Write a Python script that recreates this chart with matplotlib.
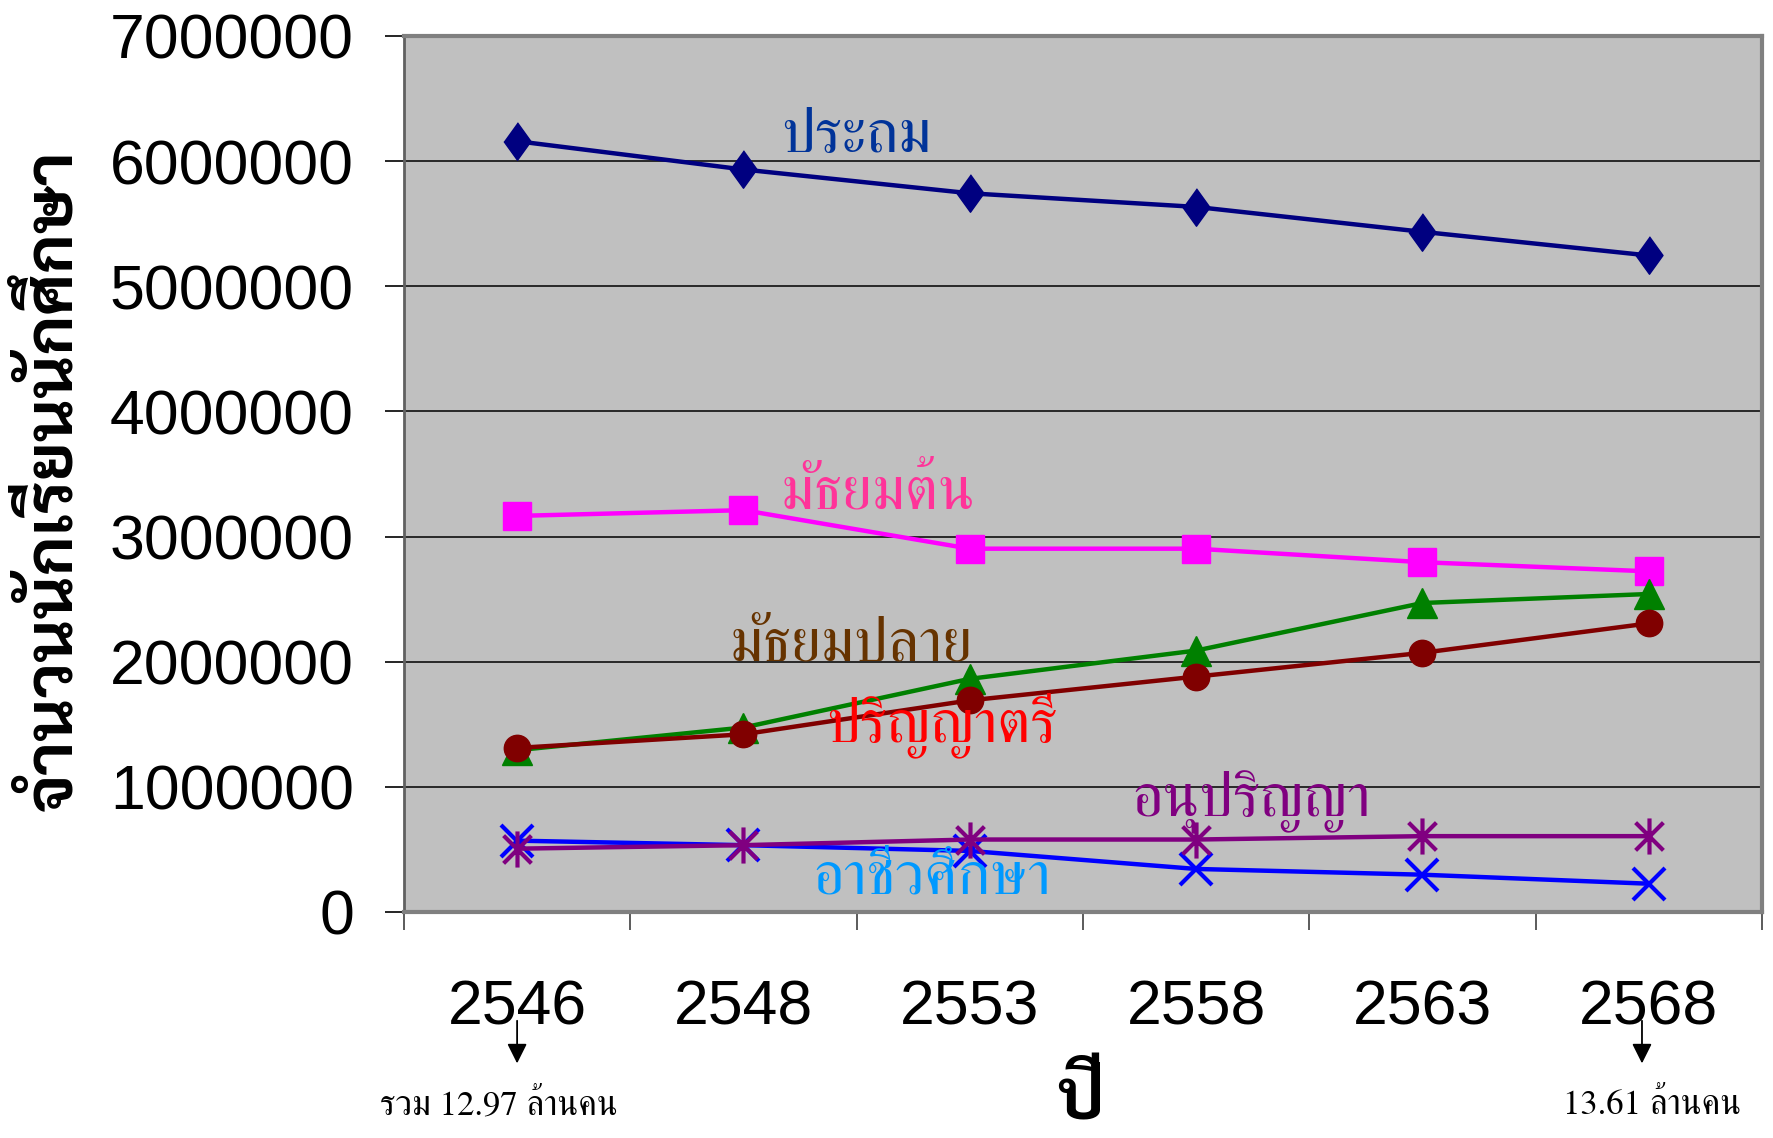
import matplotlib
matplotlib.use("Agg")
import matplotlib.pyplot as plt
from matplotlib.path import Path

############### Data ################
years = ["2546", "2548", "2553", "2558", "2563", "2568"]
prathom = [6159000, 5933000, 5743000, 5634000, 5435000, 5246000]
mathayom_ton = [3165000, 3211000, 2903000, 2903000, 2795000, 2722000]
mathayom_plai = [1293000, 1474000, 1863000, 2089000, 2469000, 2541000]
parinya_tri = [1311000, 1420000, 1691000, 1881000, 2071000, 2306000]
anuparinya = [506000, 534000, 579000, 579000, 606000, 606000]
archiwa = [570000, 534000, 488000, 344000, 298000, 226000]

# Thai fonts (Angsana / Cordia look-alikes)
thai_serif = ["FreeSerif", "Liberation Serif", "DejaVu Sans"]
thai_bold = ["Sarabun", "Noto Sans Thai Looped", "DejaVu Sans"]

plt.rcParams['font.family'] = ['Liberation Sans', 'DejaVu Sans']

############### Plot ################
fig = plt.figure(figsize=(17.74, 11.38), dpi=100)
ax = fig.add_axes([0.2277, 0.1986, 0.7655, 0.7698])
ax.set_facecolor("#C0C0C0")

x = [i + 0.5 for i in range(len(years))]

diamond = [(0, 1), (0.72, 0), (0, -1), (-0.72, 0)]
star = Path([(-1, -1), (1, 1), (-1, 1), (1, -1), (0, -1.3), (0, 1.3)],
            [Path.MOVETO, Path.LINETO] * 3)

lw = 3.2
ax.plot(x, prathom, color="#000080", lw=lw, marker=diamond, ms=27, zorder=3)
ax.plot(x, mathayom_ton, color="#FF00FF", lw=lw, marker="s", ms=19.5, zorder=3)
ax.plot(x, mathayom_plai, color="#008000", lw=lw, marker="^", ms=22, zorder=3)
ax.plot(x, parinya_tri, color="#800000", lw=lw, marker="o", ms=19, zorder=3)
ax.plot(x, archiwa, color="#0000FF", lw=lw, marker="x", ms=23, mew=3, zorder=3)
ax.plot(x, anuparinya, color="#800080", lw=lw, marker=star, ms=26, mew=3,
        mfc="none", zorder=3)

ax.set_xlim(0, 6)
ax.set_ylim(0, 7000000)
ax.set_yticks(range(0, 7000001, 1000000))
ax.set_yticklabels([str(v) for v in range(0, 7000001, 1000000)], fontsize=45)
ax.yaxis.grid(True, color="black", lw=1.1)
ax.set_axisbelow(True)
ax.tick_params(axis="y", length=14, width=1.2, pad=22, color="black")

ax.set_xticks(range(0, 7))
ax.set_xticklabels([""] * 7)
ax.tick_params(axis="x", which="major", length=13, width=1.2, color="#404040")
ax.set_xticks(x, minor=True)
ax.set_xticklabels(years, minor=True, fontsize=45)
ax.tick_params(axis="x", which="minor", length=0, pad=48)

for s in ["top", "right", "bottom"]:
    ax.spines[s].set_color("#808080")
    ax.spines[s].set_linewidth(3)
ax.spines["left"].set_color("#606060")
ax.spines["left"].set_linewidth(2)

############### Series labels ################
lab = dict(fontsize=44, family=thai_serif, zorder=4, va="center", ha="left")
ax.text(1.665, 6186000, "ประถม", color="#003399", **lab)
ax.text(1.665, 3337000, "มัธยมต้น", color="#FF3399", **lab)
ax.text(1.44, 2116000, "มัธยมปลาย", color="#663300", **lab)
ax.text(1.865, 1492000, "ปริญญาตรี", color="#FF0000", **lab)
ax.text(3.215, 877000, "อนุปริญญา", color="#800080", **lab)
ax.text(1.805, 262000, "อาชีวศึกษา", color="#0099FF", **lab)

############### Axis titles and notes ################
fig.text(0.0305, 0.578, "จำนวนนักเรียนนักศึกษา", rotation=90, fontsize=48,
         fontweight="bold", family=thai_bold, ha="center", va="center")
fig.text(0.609, 0.001, "ปี", fontsize=50, fontweight="bold", family=thai_bold,
         ha="center", va="bottom")

arrow = dict(arrowstyle="-|>", color="black", lw=1.3, mutation_scale=30)
ax.annotate("", xy=(0.5, -0.176), xytext=(0.5, -0.121),
            xycoords=("data", "axes fraction"), arrowprops=arrow)
ax.annotate("", xy=(5.47, -0.176), xytext=(5.47, -0.121),
            xycoords=("data", "axes fraction"), arrowprops=arrow)
fig.text(0.281, 0.028, "รวม 12.97 ล้านคน", fontsize=25, family=thai_serif,
         ha="center", va="center")
fig.text(0.931, 0.028, "13.61 ล้านคน", fontsize=25, family=thai_serif,
         ha="center", va="center")

fig.savefig("out.png", dpi=100)
